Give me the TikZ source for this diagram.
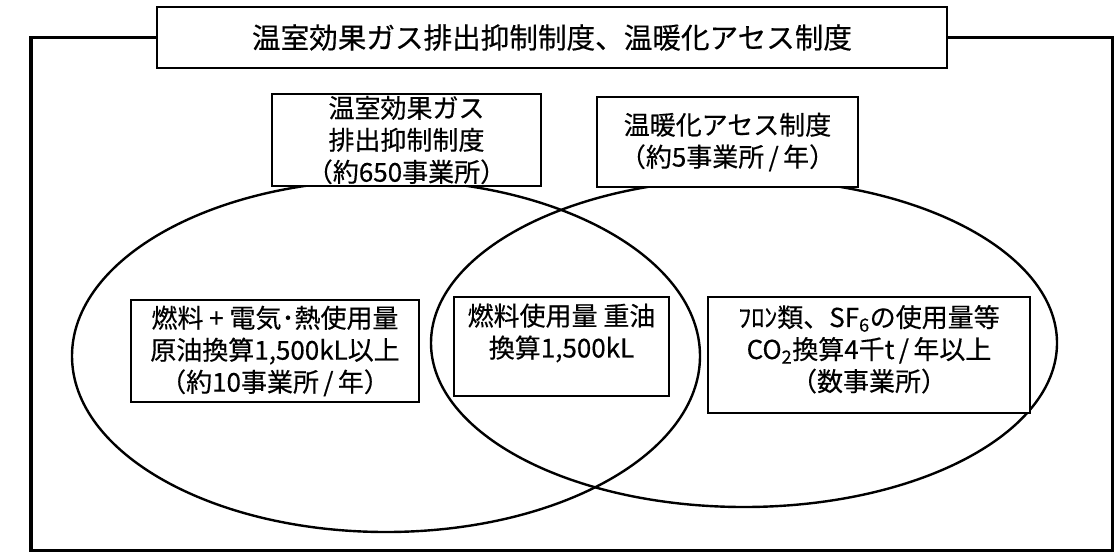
\documentclass[tikz,border=0pt]{standalone}
\usepackage{fontspec}
\setmainfont{Noto Sans CJK JP}[FakeBold=0.4]

\begin{document}
\begin{tikzpicture}[x=1pt, y=-1pt,
  box/.style = {draw, fill=white, line width=1.6pt, align=center, inner sep=0pt,
    font=\fontsize{26}{32}\selectfont},
  venn/.style = {line width=2.4pt},
  frame/.style = {line width=3.6pt}]
\useasboundingbox (0,0) rectangle (1115,554);

% the two sets
\draw[venn] (386,356) ellipse [x radius=314pt, y radius=176pt];
\draw[venn] (744,343) ellipse [x radius=313pt, y radius=164pt];

% heading and outer frame
\node[box, minimum width=790pt, minimum height=61pt,
  font=\fontsize{28.6}{32}\selectfont] (T) at (552,37.5)
  {温室効果ガス排出抑制制度、温暖化アセス制度};
\coordinate (FL) at (31,550.5);
\coordinate (FR) at (1112.5,550.5);
\draw[frame] (T.west) -| (FL) -- (FR) |- (T.east);

% set names
\node[box, minimum width=269pt, minimum height=92pt] (A) at (406.5,140)
  {温室効果ガス\\排出抑制制度\\（約650事業所）};
\node[box, minimum width=261pt, minimum height=90pt] (B) at (727.5,142)
  {温暖化アセス制度\\（約5事業所\,/\,年）};

% what falls in each part
\node[box, minimum width=288pt, minimum height=102pt] (A1) at (275,351)
  {燃料 + 電気･熱使用量\\原油換算1,500kL以上\\（約10事業所\,/\,年）};
\node[box, minimum width=215pt, minimum height=99pt] (C1) at (561.5,346.5)
  {燃料使用量 重油\\換算1,500kL\\\mbox{}};
\node[box, minimum width=322pt, minimum height=116pt] (B1) at (869,355)
  {ﾌﾛﾝ類、SF\textsubscript{6}の使用量等\\CO\textsubscript{2}換算4千t\,/\,年以上\\（数事業所）\rule[-14pt]{0pt}{14pt}};
\end{tikzpicture}
\end{document}
